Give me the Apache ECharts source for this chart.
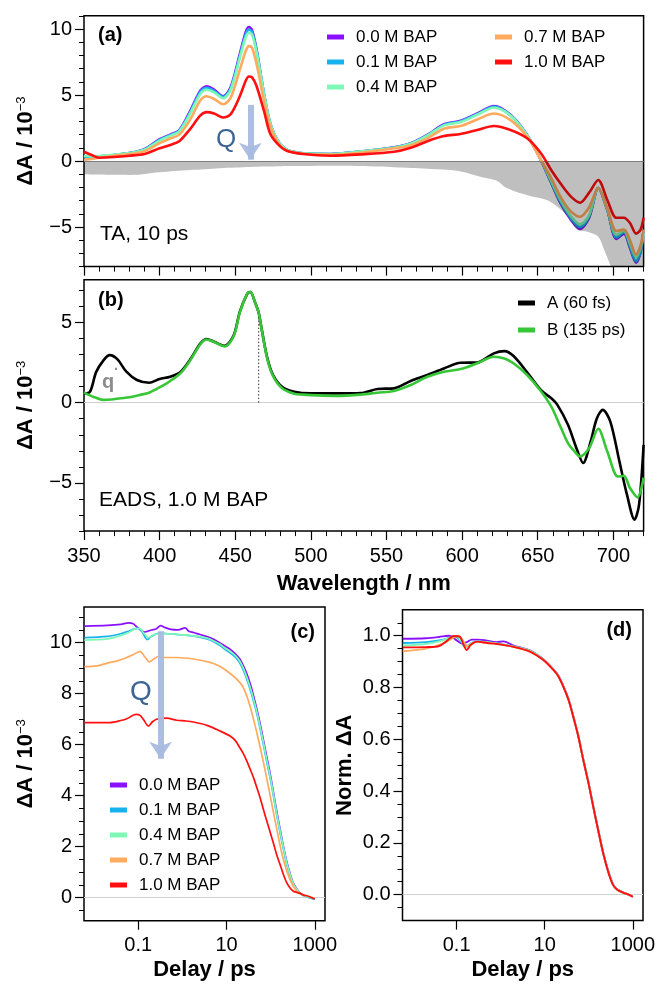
<!DOCTYPE html>
<html>
<head>
<meta charset="utf-8">
<script src="https://cdn.jsdelivr.net/npm/echarts@6/dist/echarts.min.js"></script>
<style>
  html, body { margin: 0; padding: 0; background: #ffffff; }
  #chart { width: 657px; height: 986px; }
</style>
</head>
<body>
<div id="chart"></div>
<script>
// ---------- (a) transient absorption spectra at 10 ps ----------
const taWavelength = [350,355,360,370,380,390,400,407,413,420, 427,431,436,442,447,453,457,459,461,464, 469,473,478,484,495,513,533,555,566,577, 588,599,610,621,632,643,652,659,665,672, 678,684,690,696,702,707,711,715,718,720];
const ta00 = [0.3,0.3,0.35,0.45,0.6,0.9,1.65,2.0,2.35,3.75, 5.35,5.65,5.4,4.9,5.6,8.1,9.8,10.15,9.95,8.5, 5.1,2.9,1.55,0.85,0.58,0.53,0.72,1.03,1.34,1.97, 2.78,3.05,3.6,4.17,3.5,1.97,0.08,-1.69,-3.2,-4.47, -5.15,-4.3,-2.05,-3.7,-5.9,-5.5,-6.6,-7.7,-6.9,-5.2];
const ta01 = [0.35,0.3,0.35,0.45,0.6,0.88,1.6,1.95,2.3,3.65, 5.25,5.55,5.3,4.85,5.5,7.95,9.6,9.95,9.8,8.4, 5.1,2.9,1.55,0.85,0.58,0.53,0.72,1.02,1.32,1.95, 2.74,3.0,3.55,4.1,3.45,1.95,0.1,-1.65,-3.1,-4.35, -5.0,-4.2,-2.05,-3.7,-5.8,-5.4,-6.5,-7.6,-6.9,-5.3];
const ta04 = [0.4,0.35,0.38,0.47,0.6,0.85,1.55,1.9,2.25,3.55, 5.1,5.4,5.2,4.75,5.4,7.8,9.4,9.7,9.6,8.3, 5.1,2.9,1.55,0.85,0.58,0.53,0.72,1.0,1.3,1.92, 2.7,2.95,3.5,4.03,3.45,1.95,0.12,-1.55,-2.95,-4.2, -4.8,-4.1,-2.05,-3.65,-5.6,-5.3,-6.3,-7.3,-6.6,-5.5];
const ta07 = [0.1,0.15,0.25,0.4,0.52,0.75,1.35,1.7,2.0,3.1, 4.6,4.9,4.7,4.3,4.8,6.9,8.35,8.7,8.6,7.4, 4.6,2.7,1.45,0.8,0.55,0.48,0.63,0.96,1.2,1.72, 2.45,2.65,3.15,3.6,3.1,1.84,0.1,-1.31,-2.7,-3.84, -4.22,-3.5,-2.05,-3.6,-5.3,-5.2,-6.0,-7.1,-6.4,-5.2];
const ta10 = [0.7,0.45,0.25,0.3,0.4,0.53,0.96,1.21,1.5,2.4, 3.45,3.7,3.6,3.3,3.55,4.9,6.1,6.4,6.35,5.7, 3.8,2.1,1.3,0.78,0.53,0.4,0.5,0.7,1.0,1.5, 1.89,2.05,2.35,2.65,2.35,1.72,0.6,-0.7,-1.69,-2.7, -3.16,-2.4,-1.44,-2.95,-4.3,-4.3,-4.7,-5.5,-5.2,-4.3];

// inverted ground-state absorption (grey band)
const ssWavelength = [350,360,370,380,385,390,400,410,420,430, 440,450,460,470,480,490,500,520,533,545, 555,566,577,590,600,612,623,628,636,645, 656,663,670,676,683,690,694,698,702,710, 720];
const ssAbs = [-1.0,-1.03,-1.05,-1.06,-1.05,-0.98,-0.86,-0.76,-0.68,-0.62, -0.55,-0.49,-0.45,-0.42,-0.39,-0.38,-0.37,-0.36,-0.38,-0.42, -0.47,-0.53,-0.58,-0.66,-0.81,-1.19,-1.5,-1.95,-2.35,-2.65, -2.95,-3.46,-4.2,-5.2,-5.36,-5.73,-6.74,-7.9,-9.2,-10.5, -10.0];

// ---------- (b) evolution-associated difference spectra ----------
const eadsWavelengthA = [350,354,358,363,367,372,378,385,393,400, 407,414,420,427,431,436,443,449,453,458, 460,463,465.5,467,471,475,481,489,500,517, 533,544,555,566,577,588,599,610,621,628, 634,643,652,659,663,670,676,680,685,689, 693,698,704,709,714,717,720];
const eadsA = [0.55,0.68,1.9,2.65,2.96,2.71,1.93,1.41,1.24,1.47, 1.61,1.93,2.65,3.69,3.96,3.79,3.54,4.2,5.65,6.79, 6.89,6.27,5.6,4.83,2.86,1.72,0.99,0.68,0.58,0.58, 0.6,0.85,0.89,1.35,1.72,2.13,2.48,2.5,3.07,3.21, 2.9,1.89,0.79,0.27,-0.14,-1.38,-2.94,-3.76,-2.42,-1.0, -0.45,-1.18,-3.66,-5.73,-7.29,-6.35,-2.63];
const eadsWavelengthB = [350,354,358,363,368,374,380,387,393,398, 403,407,414,420,427,431,436,443,449,453, 458,460,463,465.5,467,471,475,481,489,495, 505,517,533,544,555,566,577,588,599,610, 621,628,634,643,652,659,665,670,674,678, 684,690,696,703,707,711,716,720];
const eadsB = [0.62,0.45,0.3,0.17,0.2,0.27,0.33,0.48,0.62,0.85, 1.1,1.35,1.85,2.6,3.65,3.93,3.78,3.5,4.15,5.6, 6.8,6.9,6.27,5.6,4.8,2.8,1.65,0.9,0.55,0.5, 0.45,0.42,0.5,0.62,0.73,1.1,1.61,1.93,2.09,2.45, 2.86,2.75,2.45,1.72,0.73,-0.25,-1.49,-2.52,-3.0,-3.35, -2.83,-1.63,-3.04,-4.6,-4.56,-5.32,-5.9,-4.68];
const probeMarker = [[465.5, 0], [465.5, 5.7]];

// ---------- (c) kinetics at the bleach maximum, [delay / ps, dA / 1e-3] ----------
const kin00 = [[0.006,10.65],[0.02,10.68],[0.04,10.72],[0.06,10.78],[0.075,10.75],[0.1,10.57],[0.14,10.42],[0.2,10.5],[0.26,10.55],[0.32,10.67],[0.4,10.6],[0.55,10.52],[0.8,10.5],[1.15,10.58],[1.4,10.45],[1.8,10.4],[2.5,10.32],[3.6,10.24],[5,10.14],[7,10.0],[9,9.88],[12,9.75],[16,9.55],[20,9.36],[24,9.1],[29,8.77],[35,8.35],[41,7.91],[50,7.3],[58,6.8],[70,6.1],[82,5.5],[100,4.75],[115,4.15],[135,3.45],[163,2.7],[195,2.0],[232,1.4],[280,0.9],[330,0.55],[400,0.32],[467,0.17],[560,0.1],[660,0.06],[800,0.0],[1000,-0.05]];
const kin01 = [[0.006,10.2],[0.02,10.25],[0.04,10.35],[0.06,10.45],[0.1,10.57],[0.12,10.45],[0.16,10.12],[0.2,10.25],[0.3,10.38],[0.5,10.35],[0.8,10.32],[1.2,10.3],[2,10.25],[3.6,10.15],[5,10.05],[7,9.9],[9,9.75],[12,9.6],[16,9.42],[20,9.2],[24,8.92],[29,8.55],[35,8.12],[41,7.7],[50,7.12],[58,6.6],[70,5.92],[82,5.3],[100,4.58],[115,4.0],[135,3.3],[163,2.55],[195,1.9],[232,1.3],[280,0.83],[330,0.5],[400,0.28],[467,0.15],[560,0.08],[660,0.04],[800,-0.02],[1000,-0.06]];
const kin04 = [[0.006,10.1],[0.02,10.15],[0.04,10.28],[0.06,10.4],[0.09,10.55],[0.11,10.55],[0.13,10.4],[0.17,10.2],[0.22,10.3],[0.3,10.35],[0.5,10.35],[0.8,10.33],[1.2,10.3],[2,10.26],[3.6,10.18],[5,10.08],[7,9.95],[9,9.8],[12,9.66],[16,9.48],[20,9.27],[24,9.0],[29,8.63],[35,8.2],[41,7.78],[50,7.2],[58,6.68],[70,6.0],[82,5.38],[100,4.65],[115,4.06],[135,3.36],[163,2.62],[195,1.95],[232,1.35],[280,0.86],[330,0.52],[400,0.3],[467,0.16],[560,0.09],[660,0.05],[800,0.0],[1000,-0.04]];
const kin07 = [[0.006,9.06],[0.0115,9.09],[0.02,9.2],[0.035,9.3],[0.055,9.42],[0.08,9.55],[0.11,9.66],[0.14,9.45],[0.18,9.25],[0.22,9.35],[0.285,9.46],[0.4,9.42],[0.745,9.42],[1.77,9.36],[4.2,9.23],[7,9.08],[10,8.9],[17,8.57],[24,8.24],[34,7.52],[48.5,6.47],[69,5.29],[98,3.98],[138,2.67],[195,1.48],[275,0.7],[390,0.26],[500,0.14],[660,0.08],[1000,-0.02]];
const kin10 = [[0.006,6.87],[0.023,6.87],[0.04,6.95],[0.055,7.02],[0.089,7.19],[0.11,7.15],[0.13,7.0],[0.17,6.73],[0.21,6.9],[0.26,7.0],[0.44,7.04],[0.745,6.96],[1.2,6.93],[1.77,6.89],[3.6,6.76],[7.1,6.54],[12,6.34],[16,6.15],[20,5.88],[24,5.65],[29,5.35],[35,5.0],[41,4.7],[50,4.25],[58,3.9],[70,3.4],[82,3.0],[100,2.5],[115,2.15],[135,1.72],[163,1.3],[195,0.9],[232,0.58],[280,0.36],[330,0.25],[467,0.17],[560,0.1],[660,0.08],[800,0.02],[1000,-0.05]];

// ---------- (d) normalised kinetics ----------
const norm00 = [[0.006,0.988],[0.02,0.99],[0.04,0.995],[0.065,1.0],[0.08,0.995],[0.1,0.982],[0.13,0.97],[0.17,0.975],[0.22,0.985],[0.3,0.985],[0.45,0.982],[0.8,0.975],[1.15,0.978],[1.95,0.962],[4.7,0.942],[9.3,0.909],[15.7,0.871],[20,0.848],[26.4,0.806],[35,0.753],[44.4,0.69],[58,0.613],[75,0.523],[100,0.428],[126,0.343],[165,0.248],[212,0.163],[280,0.088],[357,0.04],[450,0.02],[600,0.009],[800,0.0],[1000,-0.008]];
const norm01 = [[0.006,0.972],[0.02,0.975],[0.05,0.985],[0.09,0.997],[0.11,0.99],[0.16,0.957],[0.22,0.972],[0.3,0.978],[0.45,0.976],[0.82,0.97],[1.95,0.958],[4.7,0.94],[9.3,0.907],[15.7,0.869],[20,0.846],[26.4,0.804],[35,0.751],[44.4,0.688],[58,0.611],[75,0.521],[100,0.426],[126,0.341],[165,0.246],[212,0.161],[280,0.086],[357,0.038],[450,0.019],[600,0.008],[800,0.0],[1000,-0.008]];
const norm04 = [[0.006,0.962],[0.02,0.968],[0.05,0.983],[0.1,1.0],[0.12,0.985],[0.17,0.958],[0.22,0.972],[0.3,0.978],[0.45,0.976],[0.82,0.97],[1.95,0.959],[4.7,0.941],[9.3,0.908],[15.7,0.87],[20,0.847],[26.4,0.805],[35,0.752],[44.4,0.689],[58,0.612],[75,0.522],[100,0.427],[126,0.342],[165,0.247],[212,0.162],[280,0.087],[357,0.039],[450,0.019],[600,0.008],[800,0.0],[1000,-0.008]];
const norm07 = [[0.006,0.94],[0.02,0.95],[0.05,0.97],[0.11,1.0],[0.14,0.98],[0.18,0.957],[0.23,0.97],[0.3,0.976],[0.45,0.974],[0.82,0.968],[1.95,0.957],[4.7,0.939],[9.3,0.906],[15.7,0.868],[20,0.845],[26.4,0.803],[35,0.75],[44.4,0.687],[58,0.61],[75,0.52],[100,0.425],[126,0.34],[165,0.245],[212,0.16],[280,0.085],[357,0.037],[450,0.018],[600,0.008],[800,0.0],[1000,-0.008]];
const norm10 = [[0.006,0.955],[0.02,0.956],[0.04,0.96],[0.06,0.98],[0.085,0.999],[0.12,0.995],[0.14,0.97],[0.17,0.945],[0.21,0.965],[0.29,0.977],[0.5,0.972],[0.82,0.968],[1.95,0.957],[4.7,0.938],[9.3,0.906],[15.7,0.868],[20,0.845],[26.4,0.803],[35,0.75],[44.4,0.687],[58,0.61],[75,0.52],[100,0.425],[126,0.34],[165,0.245],[212,0.16],[280,0.085],[357,0.037],[450,0.018],[600,0.008],[800,0.0],[1000,-0.008]];

// ---------- names, colours, ticks ----------
const concNames = ['0.0 M BAP', '0.1 M BAP', '0.4 M BAP', '0.7 M BAP', '1.0 M BAP'];
const concColors = ['#8a10ff', '#16b2ee', '#7ef8b4', '#ffaa5e', '#ff0f0f'];
const eadsNames = ['A (60 fs)', 'B (135 ps)'];
const eadsColors = ['#000000', '#36c636'];

const nmMajorTicks = [350, 400, 450, 500, 550, 600, 650, 700];
const nmMinorTicks = [350,360,370,380,390,400,410,420,430,440,450,460,470,480,490,500,510,520,530,540,550,560,570,580,590,600,610,620,630,640,650,660,670,680,690,700,710,720];
const aMajorTicks = [-5, 0, 5, 10];
const aMinorTicks = [-8,-7,-6,-5,-4,-3,-2,-1,0,1,2,3,4,5,6,7,8,9,10,11];
const bMajorTicks = [-5, 0, 5];
const bMinorTicks = [-8,-7,-6,-5,-4,-3,-2,-1,0,1,2,3,4,5,6,7];
const cMajorTicks = [0, 2, 4, 6, 8, 10];
const cMinorTicks = [-0.5,0,0.5,1,1.5,2,2.5,3,3.5,4,4.5,5,5.5,6,6.5,7,7.5,8,8.5,9,9.5,10,10.5,11];
const dMajorTicks = [0, 0.2, 0.4, 0.6, 0.8, 1.0];
const dMinorTicks = [-0.05,0,0.05,0.1,0.15,0.2,0.25,0.3,0.35,0.4,0.45,0.5,0.55,0.6,0.65,0.7,0.75,0.8,0.85,0.9,0.95,1.0,1.05];
const delayTicks = [0.1, 10, 1000];

const FONT = '"Liberation Sans", Arial, Helvetica, sans-serif';
const zip = (xs, ys) => xs.map((x, i) => [x, ys[i]]);
const minus = v => String(v).replace('-', '\u2212');

// ---------- axis factories ----------
function majorX(grid, min, max, ticks, withLabels, name, type) {
  return {
    type: type || 'value', gridIndex: grid, position: 'bottom', min, max,
    axisLine: { show: false, onZero: false },
    splitLine: { show: false },
    axisTick: { show: true, customValues: ticks, length: 9, lineStyle: { color: '#000', width: 1.2 } },
    axisLabel: {
      show: withLabels, customValues: ticks, margin: 15,
      fontSize: 20, color: '#000', fontFamily: FONT,
      formatter: v => (v >= 1 ? String(Math.round(v)) : String(v))
    },
    name: name || '', nameLocation: 'middle', nameGap: 42,
    nameTextStyle: { fontSize: 22, fontWeight: 'bold', color: '#000', fontFamily: FONT }
  };
}
function minorX(grid, min, max, ticks) {
  return {
    type: 'value', gridIndex: grid, position: 'bottom', min, max,
    axisLine: { show: false, onZero: false }, splitLine: { show: false },
    axisTick: { show: true, customValues: ticks, length: 5, lineStyle: { color: '#000', width: 1 } },
    axisLabel: { show: false }
  };
}
function majorY(grid, min, max, ticks, name, fmt) {
  return {
    type: 'value', gridIndex: grid, position: 'left', min, max,
    axisLine: { show: false, onZero: false }, splitLine: { show: false },
    axisTick: { show: true, customValues: ticks, length: 9, lineStyle: { color: '#000', width: 1.2 } },
    axisLabel: {
      customValues: ticks, margin: 12, fontSize: 20, color: '#000', fontFamily: FONT,
      formatter: fmt || (v => minus(v))
    },
    name, nameLocation: 'middle', nameRotate: 90, nameGap: 47,
    nameTextStyle: {
      color: '#000', fontFamily: FONT, fontSize: 22, fontWeight: 'bold',
      rich: {
        m: { fontSize: 22, fontWeight: 'bold', fontFamily: FONT, color: '#000' },
        s: { fontSize: 13, fontWeight: 'normal', fontFamily: FONT, color: '#000', verticalAlign: 'top' }
      }
    }
  };
}
function minorY(grid, min, max, ticks) {
  return {
    type: 'value', gridIndex: grid, position: 'left', min, max,
    axisLine: { show: false, onZero: false }, splitLine: { show: false },
    axisTick: { show: true, customValues: ticks, length: 5, lineStyle: { color: '#000', width: 1 } },
    axisLabel: { show: false }
  };
}
const frame = { show: true, borderColor: '#000', borderWidth: 1.5, backgroundColor: 'transparent', outerBoundsMode: 'none' };
const zeroLine = color => ({
  silent: true, symbol: 'none', z: 1,
  label: { show: false },
  lineStyle: { color, width: 1, type: 'solid' },
  data: [{ yAxis: 0 }]
});
const arrow = (from, to) => ({
  silent: true, symbol: ['none', 'arrow'], symbolSize: [17, 17],
  label: { show: false },
  lineStyle: { color: '#a8badf', width: 6, type: 'solid', opacity: 0.95 },
  data: [[{ coord: from }, { coord: to }]]
});

function lineSeries(name, color, data, xi, yi, width, extra) {
  return Object.assign({
    type: 'line', name, data, xAxisIndex: xi, yAxisIndex: yi,
    showSymbol: false, symbol: 'none', smooth: 0.3,
    color, itemStyle: { color },
    lineStyle: { color, width }, emphasis: { disabled: true }
  }, extra || {});
}

const taSets = [ta00, ta01, ta04, ta07, ta10];
const kinSets = [kin00, kin01, kin04, kin07, kin10];
const normSets = [norm00, norm01, norm04, norm07, norm10];

const series = [];
// (a)
taSets.forEach((ys, i) => {
  series.push(lineSeries(concNames[i], concColors[i], zip(taWavelength, ys), 0, 0, 2.6,
    i === 4 ? { markLine: arrow([460, 4.25], [460, 0.1]) } : null));
});
// grey band drawn over the spectra, so the lines under it appear darkened
series.push({
  type: 'line', name: 'ground-state bleach', data: zip(ssWavelength, ssAbs),
  xAxisIndex: 0, yAxisIndex: 0, showSymbol: false, symbol: 'none', smooth: 0.3, z: 4,
  lineStyle: { width: 0, opacity: 0 },
  areaStyle: { color: 'rgba(0,0,0,0.25)', opacity: 1, origin: 0 },
  emphasis: { disabled: true },
  markLine: zeroLine('#a6a6a6')
});
// (b)
series.push({
  type: 'line', name: 'probe', data: probeMarker, xAxisIndex: 2, yAxisIndex: 2,
  showSymbol: false, symbol: 'none', lineStyle: { color: '#333', width: 1, type: [1.5, 2] },
  emphasis: { disabled: true }, markLine: zeroLine('#cfcfcf')
});
series.push(lineSeries(eadsNames[0], eadsColors[0], zip(eadsWavelengthA, eadsA), 2, 2, 2.6));
series.push(lineSeries(eadsNames[1], eadsColors[1], zip(eadsWavelengthB, eadsB), 2, 2, 2.6));
// (c)
kinSets.forEach((d, i) => {
  series.push(lineSeries(concNames[i], concColors[i], d, 4, 4, 1.7,
    i === 0 ? { markLine: zeroLine('#d2d2d2') } :
    i === 4 ? { markLine: arrow([0.32, 10.45], [0.32, 5.45]) } : null));
});
// (d)
normSets.forEach((d, i) => {
  series.push(lineSeries(concNames[i], concColors[i], d, 5, 6, 1.9,
    i === 0 ? { markLine: zeroLine('#d2d2d2') } : null));
});

const legendBase = {
  orient: 'vertical', padding: 0, itemGap: 0, itemWidth: 17, itemHeight: 5,
  icon: 'rect', selectedMode: false,
  textStyle: { fontSize: 17, color: '#000', fontFamily: FONT, lineHeight: 25, padding: [0, 0, 0, 7] }
};

const txt = (text, x, y, size, opts) => ({
  type: 'text', x, y, silent: true,
  style: Object.assign({ text, fontSize: size, fontFamily: FONT, fill: '#000', verticalAlign: 'middle', align: 'left' }, opts || {})
});

const option = {
  animation: false,
  backgroundColor: '#fff',
  textStyle: { fontFamily: FONT },
  grid: [
    Object.assign({ left: 84, top: 15.8, width: 559.6, height: 250.8 }, frame),
    Object.assign({ left: 84, top: 279.8, width: 559.6, height: 251.3 }, frame),
    Object.assign({ left: 84, top: 607, width: 241, height: 313.7 }, frame),
    Object.assign({ left: 402.5, top: 609.8, width: 240.5, height: 310.8 }, frame)
  ],
  xAxis: [
    majorX(0, 350, 720, nmMajorTicks, false),
    minorX(0, 350, 720, nmMinorTicks),
    majorX(1, 350, 720, nmMajorTicks, true, 'Wavelength / nm'),
    minorX(1, 350, 720, nmMinorTicks),
    Object.assign(majorX(2, 0.0059, 1700, delayTicks, true, 'Delay / ps', 'log'), { nameGap: 38 }),
    Object.assign(majorX(3, 0.0059, 1700, delayTicks, true, 'Delay / ps', 'log'), { nameGap: 38 })
  ],
  yAxis: [
    majorY(0, -8, 11, aMajorTicks, '{m|\u0394A / 10}{s|\u22123}'),
    minorY(0, -8, 11, aMinorTicks),
    majorY(1, -8, 7.65, bMajorTicks, '{m|\u0394A / 10}{s|\u22123}'),
    minorY(1, -8, 7.65, bMinorTicks),
    majorY(2, -0.9, 11.4, cMajorTicks, '{m|\u0394A / 10}{s|\u22123}'),
    minorY(2, -0.9, 11.4, cMinorTicks),
    majorY(3, -0.1, 1.1, dMajorTicks, '{m|Norm. \u0394A}', v => minus(v.toFixed(1))),
    minorY(3, -0.1, 1.1, dMinorTicks)
  ],
  legend: [
    Object.assign({}, legendBase, { data: concNames.slice(0, 3), left: 327, top: 24.5 }),
    Object.assign({}, legendBase, { data: concNames.slice(3), left: 495, top: 24.5 }),
    Object.assign({}, legendBase, { data: eadsNames, left: 518, top: 289.5,
      textStyle: Object.assign({}, legendBase.textStyle, { lineHeight: 27 }) }),
    Object.assign({}, legendBase, { data: concNames, left: 110, top: 772.5 })
  ],
  graphic: { elements: [
    txt('(a)', 98, 35, 20, { fontWeight: 'bold' }),
    txt('TA, 10 ps', 100, 234, 21),
    txt('Q', 226, 140, 26, { fill: '#3d6594', align: 'center' }),
    txt('(b)', 98, 300, 20, { fontWeight: 'bold' }),
    txt('EADS, 1.0 M BAP', 99, 500, 21),
    txt('q', 102, 382, 20, { fontWeight: 'bold', fill: '#8c8c8c' }),
    txt('\u00b7', 114, 370, 14, { fontWeight: 'bold', fill: '#8c8c8c' }),
    txt('(c)', 315, 632, 20, { fontWeight: 'bold', align: 'right' }),
    txt('Q', 141, 692, 28, { fill: '#3d6594', align: 'center' }),
    txt('(d)', 632, 630, 20, { fontWeight: 'bold', align: 'right' })
  ] },
  series
};

const chart = echarts.init(document.getElementById('chart'), null, { renderer: 'canvas' });
chart.setOption(option);
</script>
</body>
</html>
